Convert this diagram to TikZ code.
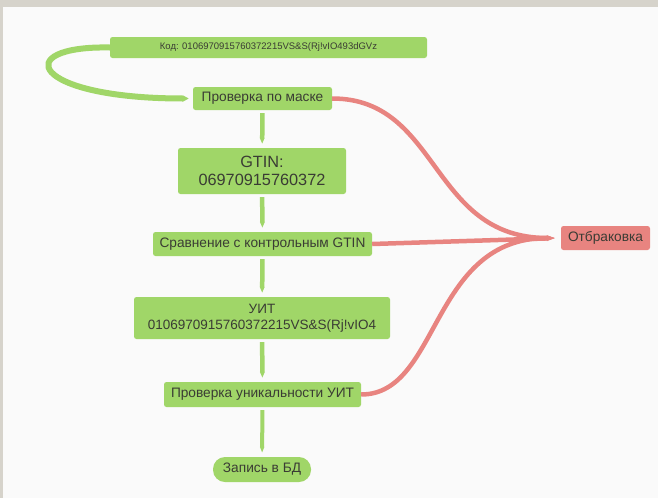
\documentclass[tikz,border=0pt]{standalone}
\usepackage{fontspec}
\setmainfont{Liberation Sans}
\usetikzlibrary{arrows.meta}
\definecolor{leaf}{RGB}{160,214,104}
\definecolor{reject}{RGB}{232,132,128}
\definecolor{ink}{RGB}{58,60,52}
\definecolor{paper}{RGB}{250,250,250}
\definecolor{frame}{RGB}{214,211,203}

\begin{document}
\begin{tikzpicture}[x=1pt,y=-1pt,
  box/.style={fill=leaf, rounded corners=2.5pt, text=ink, inner sep=0pt, align=center, font=\fontsize{13.7}{16}\selectfont},
  bad/.style={box, fill=reject},
  go/.style={draw=leaf, line width=4.5pt, -{Triangle[length=6pt,width=0pt 1]}, shorten >=4pt, shorten <=3pt},
  no/.style={draw=reject, line width=4.5pt, -{Triangle[length=9pt,width=0pt 1]}, shorten >=5pt}]
\fill[paper] (0,0) rectangle (658,498);
\fill[frame] (0,0) rectangle (658,7);
\fill[frame] (0,0) rectangle (3,498);
\useasboundingbox (0,0) rectangle (658,498);

\node[box, minimum width=317pt, minimum height=21pt, font=\fontsize{9.5}{11}\selectfont] (code) at (268.5,47.5) {Код: 0106970915760372215VS\&S(Rj!vIO493dGVz};
\node[box, minimum width=139pt, minimum height=23pt] (mask) at (262.5,98.5) {Проверка по маске};
\node[box, minimum width=168pt, minimum height=46pt, font=\fontsize{16.3}{18.5}\selectfont] (gtin) at (262,171) {GTIN:\\06970915760372};
\node[box, minimum width=219pt, minimum height=24pt] (compare) at (262.5,244) {Сравнение с контрольным GTIN};
\node[box, minimum width=256pt, minimum height=42pt, font=\fontsize{13.5}{16}\selectfont] (uit) at (262,318) {УИТ\\0106970915760372215VS\&S(Rj!vIO4};
\node[box, minimum width=197pt, minimum height=25pt] (unique) at (262.5,394.5) {Проверка уникальности УИТ};
\node[box, rounded corners=12pt, minimum width=98pt, minimum height=25pt] (save) at (262,469.5) {Запись в БД};
\node[bad, minimum width=89pt, minimum height=24pt] (reject) at (605.5,238) {Отбраковка};

\draw[go, line width=6pt, shorten <=0pt] (code.west) .. controls +(-100,-2) and +(-163,0) .. (mask.west);
\draw[go] (mask) -- (gtin);
\draw[go] (gtin) -- (compare);
\draw[go] (compare) -- (uit);
\draw[go] (uit) -- (unique);
\draw[go, line width=4pt] (unique) -- (save);

\draw[no] (mask.east) .. controls +(108,0) and +(-131,0) .. (reject.west);
\draw[no] (compare.east) -- (reject.west);
\draw[no] (unique.east) .. controls +(79,0) and +(-131,0) .. (reject.west);
\end{tikzpicture}
\end{document}
